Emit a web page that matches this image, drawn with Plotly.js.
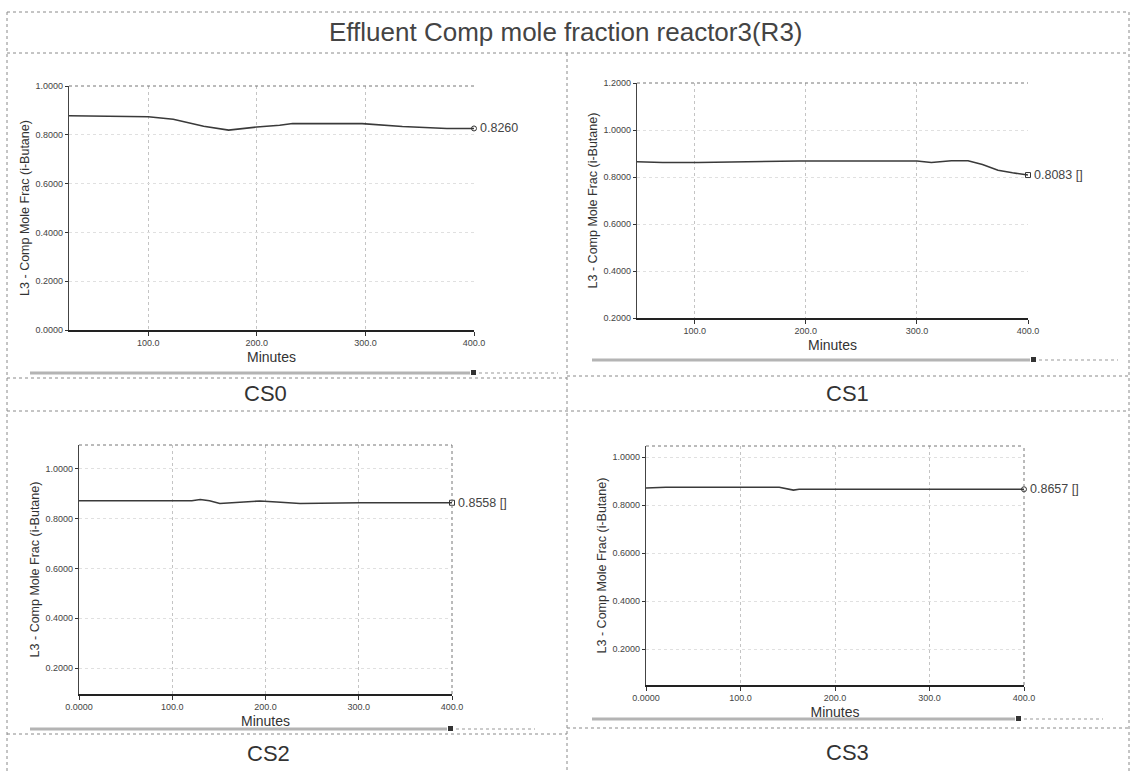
<!DOCTYPE html>
<html><head><meta charset="utf-8">
<script src="https://cdn.plot.ly/plotly-3.0.1.min.js"></script>
<style>html,body{margin:0;padding:0;background:#fff;} #chart{width:1132px;height:771px;}</style>
</head><body><div id="chart"></div>
<script>
// ---------- data ----------
const chartTitle = "Effluent Comp mole fraction reactor3(R3)";
const caseNames = ["CS0", "CS1", "CS2", "CS3"];
const yAxisTitle = "L3 - Comp Mole Frac (i-Butane)";
const xAxisTitle = "Minutes";

const cs0Minutes = [27, 100, 123, 151, 174, 200, 221, 233, 297, 334, 375, 400];
const cs0Frac    = [0.878, 0.874, 0.864, 0.835, 0.819, 0.832, 0.839, 0.846, 0.846, 0.834, 0.826, 0.826];
const cs1Minutes = [48, 71, 103, 194, 300, 313, 331, 346, 359, 373, 386, 400];
const cs1Frac    = [0.865, 0.862, 0.862, 0.868, 0.868, 0.862, 0.869, 0.869, 0.853, 0.829, 0.818, 0.8083];
const cs2Minutes = [0, 121, 130, 140, 151, 165, 194, 212, 237, 302, 400];
const cs2Frac    = [0.872, 0.872, 0.877, 0.872, 0.861, 0.864, 0.871, 0.867, 0.861, 0.864, 0.864];
const cs3Minutes = [0, 21, 141, 148, 156, 162, 198, 204, 236, 241, 300, 400];
const cs3Frac    = [0.871, 0.874, 0.874, 0.868, 0.862, 0.866, 0.866, 0.868, 0.868, 0.865, 0.866, 0.8657];
const endLabels  = ["0.8260", "0.8083 []", "0.8558 []", "0.8657 []"];

const xTickVals01 = [100, 200, 300, 400];
const xTickText01 = ["100.0", "200.0", "300.0", "400.0"];
const xTickVals23 = [0, 100, 200, 300, 400];
const xTickText23 = ["0.0000", "100.0", "200.0", "300.0", "400.0"];
const yTickVals0 = [0, 0.2, 0.4, 0.6, 0.8, 1.0];
const yTickVals1 = [0.2, 0.4, 0.6, 0.8, 1.0, 1.2];
const yTickVals23 = [0.2, 0.4, 0.6, 0.8, 1.0];

// ---------- layout helpers ----------
const W = 1132, H = 771;
const px = x => x / W;
const py = y => 1 - y / H;

const series = [
  {x: cs0Minutes, y: cs0Frac, sym: "circle-open"},
  {x: cs1Minutes, y: cs1Frac, sym: "square-open"},
  {x: cs2Minutes, y: cs2Frac, sym: "square-open"},
  {x: cs3Minutes, y: cs3Frac, sym: "circle-open"}
];
// plot boxes in pixels: [left, right, top, bottom]
const boxes = [[69, 474, 86, 330], [637, 1028, 83, 318], [79, 452, 445, 694], [646, 1024, 446, 685]];
const xRanges = [[27, 400], [48, 400], [0, 400], [0, 400]];
const yRanges = [[0, 1.0], [0.2, 1.2], [0.096, 1.096], [0.05, 1.046]];
const xTicks = [[xTickVals01, xTickText01], [xTickVals01, xTickText01], [xTickVals23, xTickText23], [xTickVals23, xTickText23]];
const yTicks = [yTickVals0, yTickVals1, yTickVals23, yTickVals23];
const caseLabelPos = [[265, 393], [847, 393], [268, 753], [847, 752]];

const ink = "#333";
const tickFont = {family: "Liberation Sans, Arial, sans-serif", size: 9, color: "#444"};
const traces = [];
const annotations = [];
const layout = {
  width: W, height: H,
  margin: {l: 0, r: 0, t: 0, b: 0},
  paper_bgcolor: "#fff", plot_bgcolor: "#fff",
  showlegend: false,
  font: {family: "Liberation Sans, Arial, sans-serif", color: ink},
  shapes: [],
  annotations: annotations
};

series.forEach((s, i) => {
  const n = i === 0 ? "" : String(i + 1);
  const xa = "x" + n, ya = "y" + n;
  traces.push({
    x: s.x, y: s.y, xaxis: xa, yaxis: ya, type: "scatter", mode: "lines",
    line: {color: "#3a3a3a", width: 1.6}, hoverinfo: "skip"
  });
  const lx = s.x[s.x.length - 1], ly = s.y[s.y.length - 1];
  traces.push({
    x: [lx], y: [ly], xaxis: xa, yaxis: ya, type: "scatter", mode: "markers",
    marker: {symbol: s.sym, size: 5, color: "#333", line: {width: 1}}, cliponaxis: false, hoverinfo: "skip"
  });
  annotations.push({
    xref: xa, yref: ya, x: lx, y: ly, text: endLabels[i], showarrow: false,
    xanchor: "left", yanchor: "middle", xshift: 4,
    font: {family: "Liberation Sans, Arial, sans-serif", size: 12.5, color: "#444"}
  });
  const b = boxes[i];
  layout["xaxis" + n] = {
    domain: [px(b[0]), px(b[1])], anchor: ya, range: xRanges[i],
    tickvals: xTicks[i][0], ticktext: xTicks[i][1], tickfont: tickFont,
    ticks: "outside", ticklen: 4, tickcolor: ink,
    showline: true, linecolor: "#222", linewidth: 1.5,
    showgrid: true, gridcolor: "#c4c4c4", griddash: "dot", gridwidth: 1,
    zeroline: false, fixedrange: true,
    title: {text: xAxisTitle, font: {family: "Liberation Sans, Arial, sans-serif", size: 14, color: ink}, standoff: 5}
  };
  layout["yaxis" + n] = {
    domain: [py(b[3]), py(b[2])], anchor: xa, range: yRanges[i],
    tickvals: yTicks[i], tickformat: ".4f", tickfont: tickFont,
    ticks: "outside", ticklen: 3, tickcolor: ink,
    showline: true, linecolor: "#444", linewidth: 1.2,
    showgrid: true, gridcolor: "#e0e0e0", griddash: "dot", gridwidth: 1,
    zeroline: false, fixedrange: true,
    title: {text: yAxisTitle, font: {family: "Liberation Sans, Arial, sans-serif", size: 12.5, color: ink}, standoff: 3}
  };
  // top & right dotted frame
  layout.shapes.push({type: "line", xref: "paper", yref: "paper", x0: px(b[0]), x1: px(b[1]), y0: py(b[2]), y1: py(b[2]),
    line: {color: "#777", width: 1, dash: "dot"}});
  if (i >= 2) {
    layout.shapes.push({type: "line", xref: "paper", yref: "paper", x0: px(b[1]), x1: px(b[1]), y0: py(b[3]), y1: py(b[2]),
      line: {color: "#777", width: 1, dash: "dot"}});
  }
  // case label
  annotations.push({
    xref: "paper", yref: "paper", x: px(caseLabelPos[i][0]), y: py(caseLabelPos[i][1]),
    text: caseNames[i], showarrow: false, xanchor: "center", yanchor: "middle",
    font: {family: "Liberation Sans, Arial, sans-serif", size: 22, color: "#333"}
  });
});

// table border / divider lines (dotted)
const dot = {color: "#8a8a8a", width: 1, dash: "dot"};
const hl = (y, x0, x1) => ({type: "line", xref: "paper", yref: "paper", x0: px(x0), x1: px(x1), y0: py(y), y1: py(y), line: dot});
const vl = (x, y0, y1) => ({type: "line", xref: "paper", yref: "paper", x0: px(x), x1: px(x), y0: py(y0), y1: py(y1), line: dot});
layout.shapes.push(
  hl(12, 7, 1129), hl(53, 7, 1129),
  hl(378, 7, 567), hl(376, 567, 1129),
  hl(411, 7, 1129),
  hl(734, 7, 567), hl(728, 567, 1129),
  vl(7, 12, 771), vl(567, 53, 771), vl(1129, 12, 771)
);
// scrollbar-like strips under each plot
const strips = [[30, 470, 373], [592, 1030, 360], [30, 447, 729], [592, 1015, 719]];
strips.forEach(s => {
  layout.shapes.push({type: "line", xref: "paper", yref: "paper", x0: px(s[0]), x1: px(s[1]), y0: py(s[2]), y1: py(s[2]),
    line: {color: "#b4b4b4", width: 3}});
  layout.shapes.push({type: "rect", xref: "paper", yref: "paper", x0: px(s[1] + 1), x1: px(s[1] + 6), y0: py(s[2] + 2), y1: py(s[2] - 3),
    fillcolor: "#333", line: {width: 0}});
  layout.shapes.push({type: "line", xref: "paper", yref: "paper", x0: px(s[1] + 9), x1: px(s[1] + 88), y0: py(s[2]), y1: py(s[2]),
    line: {color: "#999", width: 1, dash: "dot"}});
});
// main title
annotations.push({
  xref: "paper", yref: "paper", x: px(566), y: py(32), text: chartTitle, showarrow: false,
  xanchor: "center", yanchor: "middle",
  font: {family: "Liberation Sans Narrow, Liberation Sans, Arial, sans-serif", size: 26, color: "#444"}
});

Plotly.newPlot("chart", traces, layout, {staticPlot: true, displayModeBar: false});
</script></body></html>
